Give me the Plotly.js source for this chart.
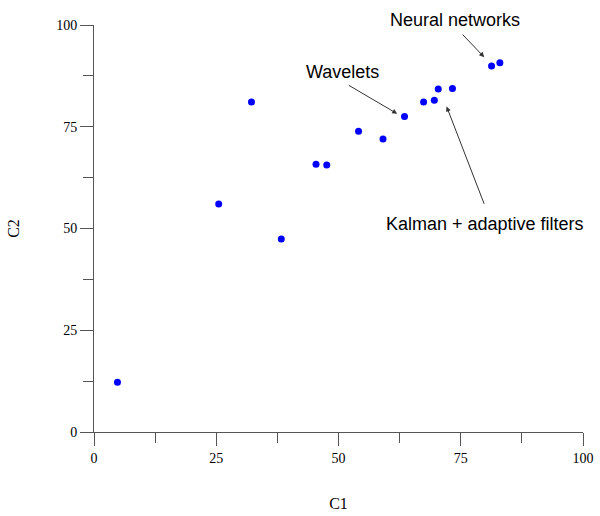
<!DOCTYPE html>
<html>
<head>
<meta charset="utf-8">
<script src="https://cdn.plot.ly/plotly-3.0.1.min.js"></script>
<style>
  body { margin: 0; background: #fff; }
  #myPlot { width: 600px; height: 516px; }
</style>
</head>
<body>
<div id="myPlot"></div>
<script>
// values
var c1 = [4.8, 25.5, 32.2, 38.3, 45.4, 47.6, 54.1, 59.1, 63.5, 67.4, 69.6, 70.4, 73.3, 81.3, 83.0];
var c2 = [12.2, 56.0, 81.1, 47.4, 65.8, 65.6, 73.9, 72.0, 77.5, 81.1, 81.5, 84.3, 84.4, 89.9, 90.7];

// labels: text, text centre (fraction of the axes), arrow tail and head (data units)
var labelText = ["Neural networks", "Wavelets", "Kalman + adaptive filters"];
var labelX = [0.739, 0.509, 0.799];
var labelY = [1.013, 0.885, 0.510];
var tailX = [75.1, 51.8, 79.9];
var tailY = [98.0, 85.4, 55.7];
var headX = [79.8, 62.0, 72.1];
var headY = [92.1, 78.2, 80.0];

var tickVals = [0, 25, 50, 75, 100];

function drawPlot() {
    var trace = {
        x: c1,
        y: c2,
        mode: 'markers',
        type: 'scatter',
        marker: {color: '#0000ff', size: 7},
        hoverinfo: 'x+y'
    };

    var annotations = [];
    for (var i = 0; i < labelText.length; i++) {
        annotations.push({
            xref: 'paper', yref: 'paper',
            x: labelX[i], y: labelY[i],
            xanchor: 'center', yanchor: 'middle',
            text: labelText[i],
            showarrow: false,
            font: {family: 'Liberation Sans, Arial, sans-serif', size: 18, color: '#000'}
        });
        annotations.push({
            xref: 'x', yref: 'y', axref: 'x', ayref: 'y',
            x: headX[i], y: headY[i],
            ax: tailX[i], ay: tailY[i],
            text: '',
            showarrow: true,
            arrowhead: 2,
            arrowsize: 1,
            arrowwidth: 1,
            arrowcolor: '#333'
        });
    }

    var axisStyle = {
        range: [0, 100],
        tickvals: tickVals,
        ticktext: tickVals.map(String),
        ticks: 'outside',
        ticklen: 13,
        tickwidth: 1,
        tickcolor: '#555',
        showline: true,
        linecolor: '#555',
        linewidth: 1,
        showgrid: false,
        zeroline: false,
        minor: {ticks: 'outside', ticklen: 10, dtick: 12.5, tick0: 0, tickcolor: '#555', showgrid: false},
        tickfont: {family: 'Liberation Serif, Times New Roman, serif', size: 14, color: '#000'}
    };

    var layout = {
        width: 600,
        height: 516,
        margin: {l: 94, r: 17, t: 25, b: 84},
        paper_bgcolor: '#fff',
        plot_bgcolor: '#fff',
        showlegend: false,
        xaxis: Object.assign({}, axisStyle, {
            title: {text: 'C1', standoff: 33, font: {family: 'Liberation Serif, Times New Roman, serif', size: 16, color: '#000'}}
        }),
        yaxis: Object.assign({}, axisStyle, {
            title: {text: 'C2', standoff: 32, font: {family: 'Liberation Serif, Times New Roman, serif', size: 16, color: '#000'}}
        }),
        annotations: annotations
    };

    Plotly.newPlot('myPlot', [trace], layout, {displayModeBar: false, staticPlot: true});
}

drawPlot();
</script>
</body>
</html>
